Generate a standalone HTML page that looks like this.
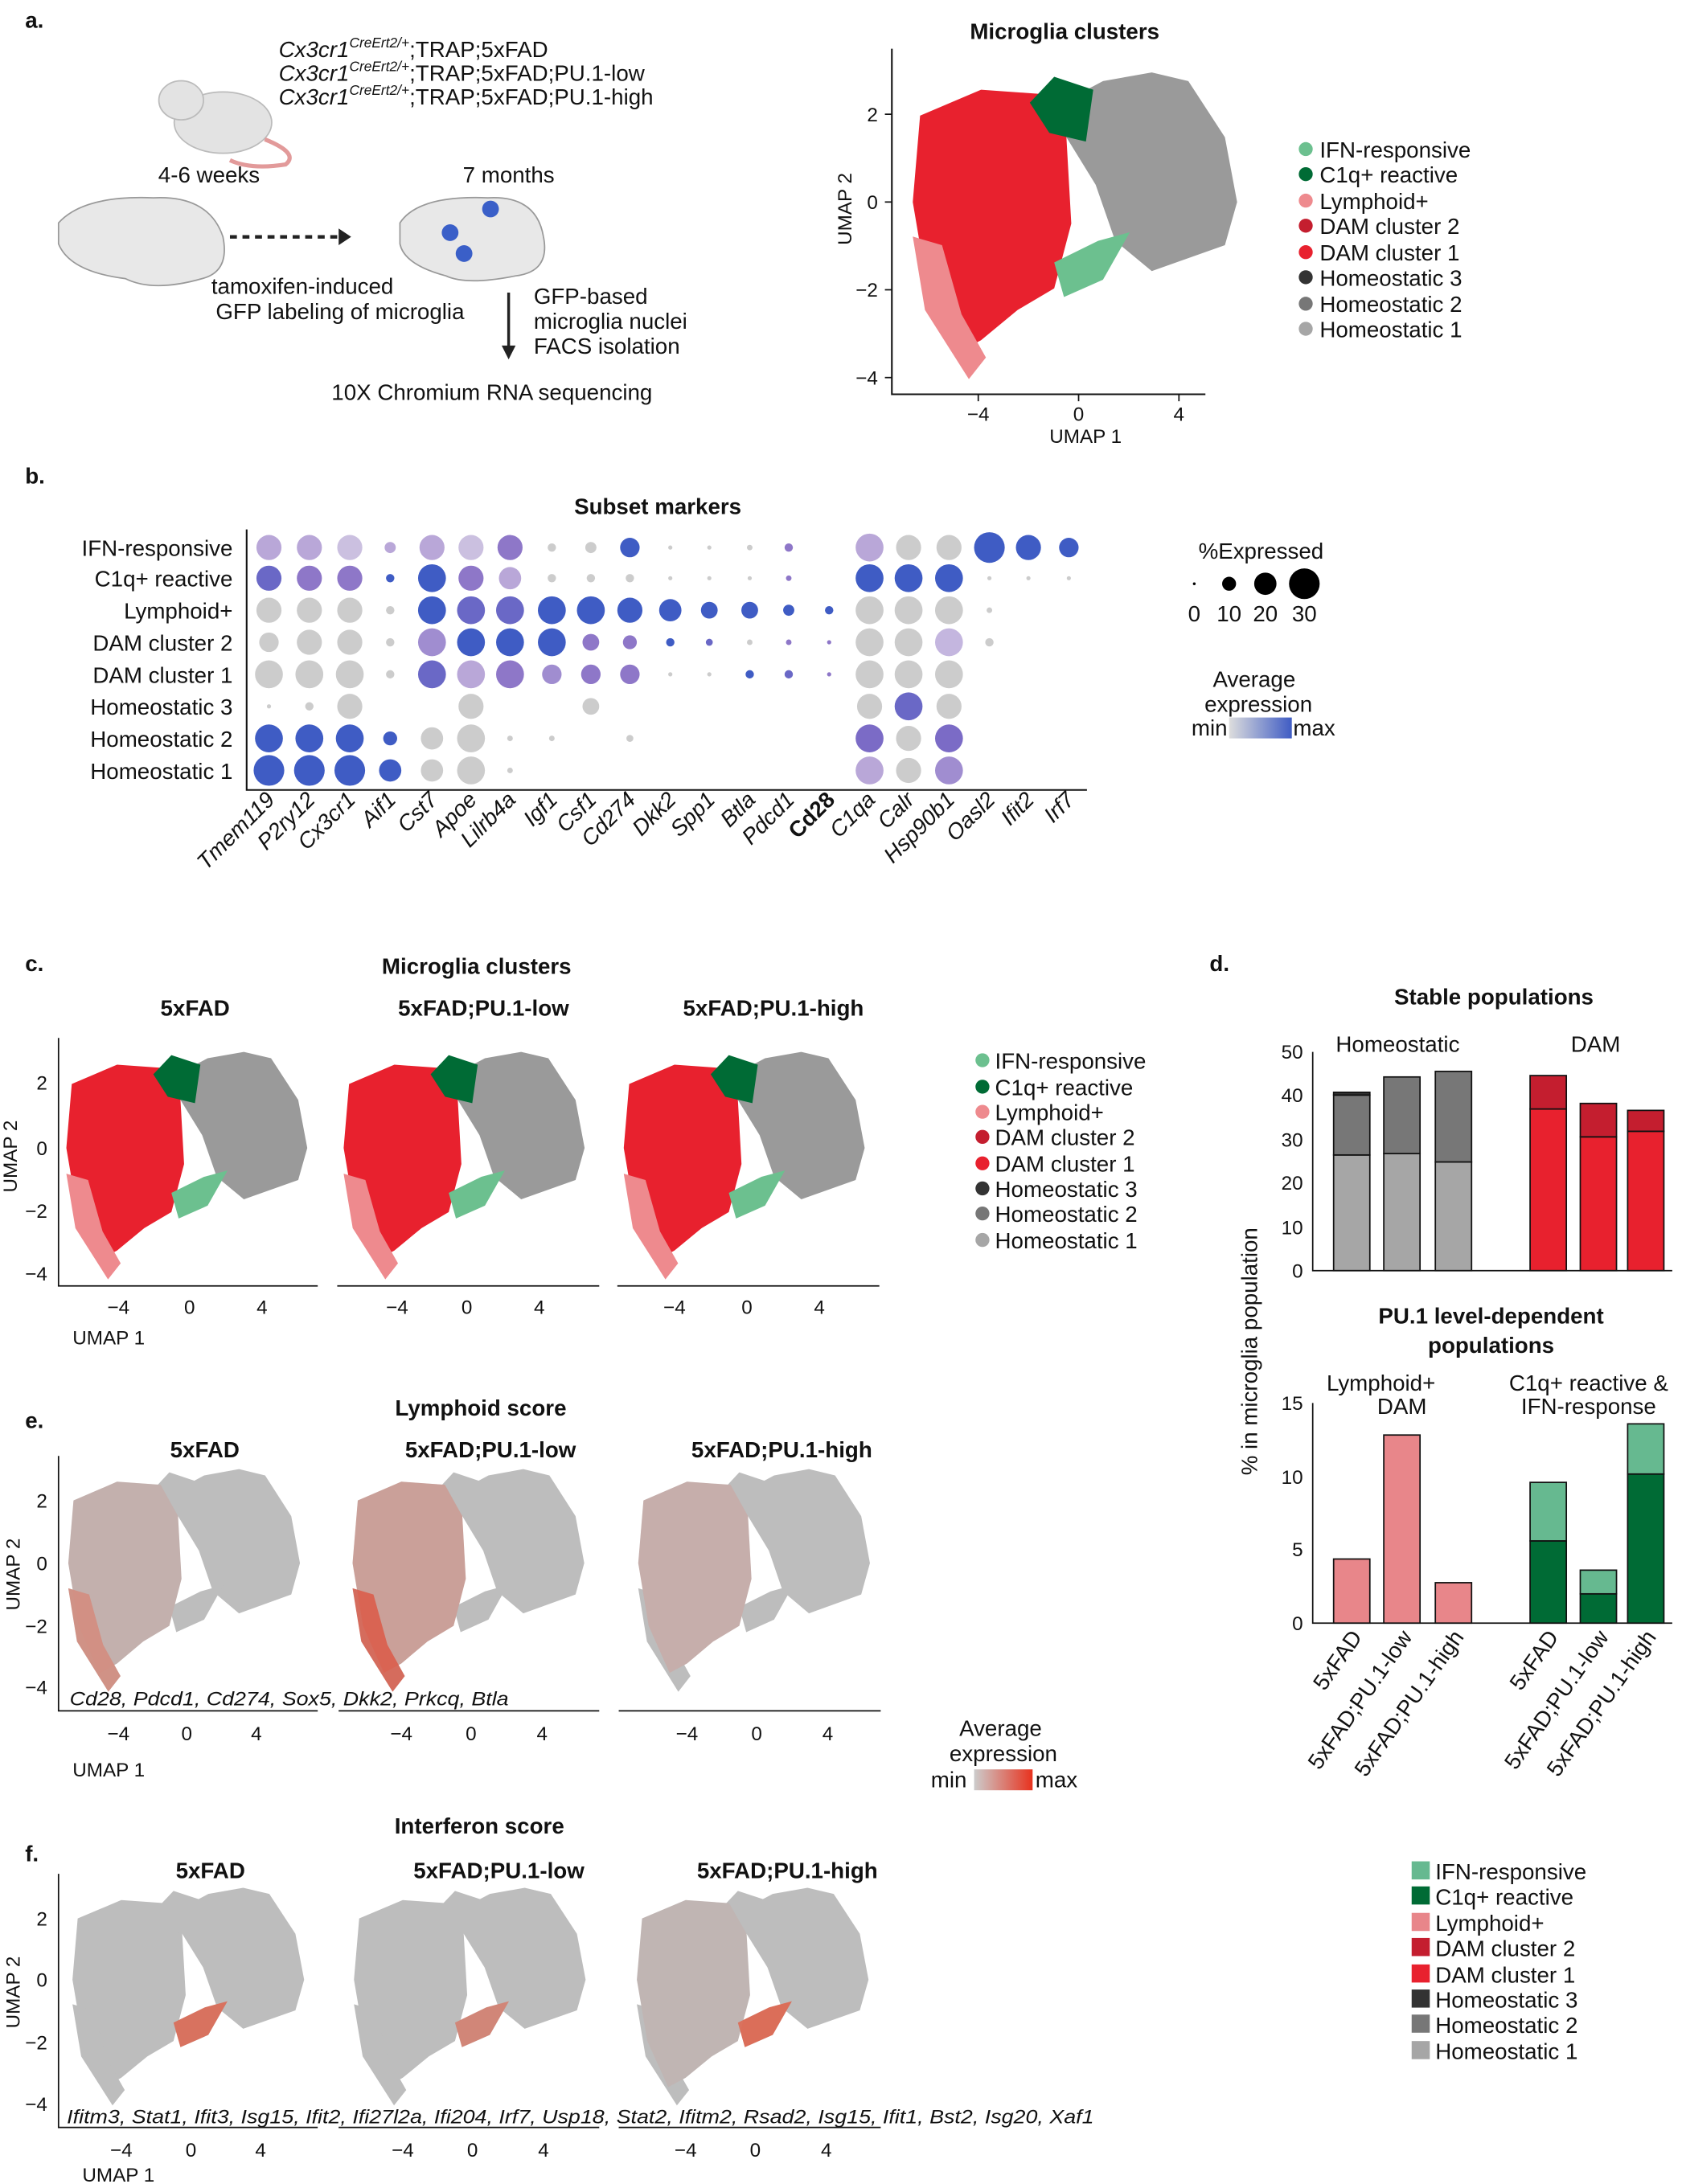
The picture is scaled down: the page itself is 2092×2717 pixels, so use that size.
<!DOCTYPE html>
<html><head><meta charset="utf-8"><style>
html,body{margin:0;padding:0;background:#fff}
svg{display:block;font-family:"Liberation Sans",Arial,sans-serif}
.t{font-size:16px;fill:#111}
.b{font-weight:bold}
.tk{font-size:14px;fill:#111}
.i{font-style:italic}
</style></head><body>
<svg width="2092" height="2717" viewBox="0 0 1207 1567.6" xmlns="http://www.w3.org/2000/svg">
<defs>
<g id="grey"><polygon points="-1,2.2 1,2.8 3,3 4.5,2.8 6,1.5 6.5,0 6,-1 3,-1.6 1.5,-0.9 0.7,0.4 -0.5,1.5"/></g>
<g id="red"><polygon points="-6.5,2 -4,2.6 -1.5,2.5 -0.5,1.5 -0.3,-0.5 -1,-2 -2.5,-2.5 -4,-3.2 -5,-3.5 -6.2,-2 -6.8,0"/></g>
<g id="pink"><polygon points="-6.8,-0.8 -6.3,-2.5 -4.5,-4.1 -3.8,-3.6 -4.8,-2.6 -5.6,-1"/></g>
<g id="dkg"><polygon points="-2,2.3 -1,2.9 0.6,2.6 0.3,1.4 -1.2,1.6"/></g>
<g id="ltg"><polygon points="-1,-1.4 0.8,-0.9 2.1,-0.7 1,-1.8 -0.6,-2.2"/></g>
<g id="umap">
<use href="#grey" fill="#9a9a9a"/><use href="#red" fill="#e8212e"/><use href="#pink" fill="#ee8a8e"/><use href="#dkg" fill="#006b35"/><use href="#ltg" fill="#6cc08f"/>
</g>
<g id="score">
<use href="#grey" fill="#bdbdbd"/><use href="#red" fill="#bdbdbd"/><use href="#pink" fill="#bdbdbd"/><use href="#dkg" fill="#bdbdbd"/><use href="#ltg" fill="#bdbdbd"/>
</g>
<linearGradient id="gp" x1="0" x2="1"><stop offset="0" stop-color="#ddd"/><stop offset="1" stop-color="#3f5cc4"/></linearGradient>
<linearGradient id="gr" x1="0" x2="1"><stop offset="0" stop-color="#ccc"/><stop offset="1" stop-color="#e8321e"/></linearGradient>
</defs>

<!-- Panel a -->
<text x="18" y="20" class="t b" font-size="18">a.</text>
<ellipse cx="160" cy="88" rx="35" ry="22" fill="#e3e3e3" stroke="#bbb"/>
<ellipse cx="130" cy="72" rx="16" ry="14" fill="#e3e3e3" stroke="#bbb"/>
<path d="M190 100 Q215 110 205 118 Q180 122 165 115" fill="none" stroke="#e29a9a" stroke-width="3"/>
<text x="200" y="41" class="t"><tspan class="i">Cx3cr1</tspan><tspan font-size="10" dy="-7" class="i">CreErt2/+</tspan><tspan dy="7">;TRAP;5xFAD</tspan></text>
<text x="200" y="58" class="t"><tspan class="i">Cx3cr1</tspan><tspan font-size="10" dy="-7" class="i">CreErt2/+</tspan><tspan dy="7">;TRAP;5xFAD;PU.1-low</tspan></text>
<text x="200" y="75" class="t"><tspan class="i">Cx3cr1</tspan><tspan font-size="10" dy="-7" class="i">CreErt2/+</tspan><tspan dy="7">;TRAP;5xFAD;PU.1-high</tspan></text>
<text x="150" y="131" class="t" text-anchor="middle">4-6 weeks</text>
<text x="365" y="131" class="t" text-anchor="middle">7 months</text>
<path d="M42 160 Q60 140 110 142 Q150 140 160 170 Q165 195 145 200 Q110 210 90 200 Q50 195 42 175Z" fill="#e8e8e8" stroke="#999"/>
<path d="M287 160 Q300 140 350 142 Q385 140 390 170 Q395 195 370 198 Q335 205 320 198 Q290 190 287 175Z" fill="#e8e8e8" stroke="#999"/>
<circle cx="323" cy="167" r="6" fill="#3a5fc8"/><circle cx="352" cy="150" r="6" fill="#3a5fc8"/><circle cx="333" cy="182" r="6" fill="#3a5fc8"/>
<line x1="165" y1="170" x2="243" y2="170" stroke="#222" stroke-width="2.5" stroke-dasharray="5,4"/>
<polygon points="243,164 252,170 243,176" fill="#222"/>
<text x="217" y="211" class="t" text-anchor="middle">tamoxifen-induced</text>
<text x="244" y="229" class="t" text-anchor="middle">GFP labeling of microglia</text>
<line x1="365" y1="210" x2="365" y2="250" stroke="#222" stroke-width="2"/>
<polygon points="360,248 370,248 365,258" fill="#222"/>
<text x="383" y="218" class="t">GFP-based</text>
<text x="383" y="236" class="t">microglia nuclei</text>
<text x="383" y="254" class="t">FACS isolation</text>
<text x="353" y="287" class="t" text-anchor="middle">10X Chromium RNA sequencing</text>

<!-- top UMAP -->
<text x="764" y="28" class="t b" font-size="18" text-anchor="middle">Microglia clusters</text>
<g transform="translate(774,145) scale(17.5,-31)"><use href="#umap"/></g>
<path d="M640 35 V283 H865" fill="none" stroke="#111" stroke-width="1.2"/>
<g class="tk" text-anchor="end"><text x="630" y="87">2</text><text x="630" y="150">0</text><text x="630" y="213">−2</text><text x="630" y="276">−4</text></g>
<g stroke="#111"><line x1="635" y1="82" x2="640" y2="82"/><line x1="635" y1="145" x2="640" y2="145"/><line x1="635" y1="208" x2="640" y2="208"/><line x1="635" y1="271" x2="640" y2="271"/>
<line x1="702" y1="283" x2="702" y2="288"/><line x1="774" y1="283" x2="774" y2="288"/><line x1="846" y1="283" x2="846" y2="288"/></g>
<g class="tk" text-anchor="middle"><text x="702" y="302">−4</text><text x="774" y="302">0</text><text x="846" y="302">4</text></g>
<text x="779" y="318" class="tk" text-anchor="middle">UMAP 1</text>
<text transform="translate(611,150) rotate(-90)" class="tk" text-anchor="middle">UMAP 2</text>
<g class="t">
<circle cx="937" cy="107" r="5" fill="#6cc08f"/><text x="947" y="113">IFN-responsive</text>
<circle cx="937" cy="125" r="5" fill="#006b35"/><text x="947" y="131">C1q+ reactive</text>
<circle cx="937" cy="144" r="5" fill="#ee8a8e"/><text x="947" y="150">Lymphoid+</text>
<circle cx="937" cy="162" r="5" fill="#c41e2f"/><text x="947" y="168">DAM cluster 2</text>
<circle cx="937" cy="181" r="5" fill="#e8212e"/><text x="947" y="187">DAM cluster 1</text>
<circle cx="937" cy="199" r="5" fill="#333"/><text x="947" y="205">Homeostatic 3</text>
<circle cx="937" cy="218" r="5" fill="#777"/><text x="947" y="224">Homeostatic 2</text>
<circle cx="937" cy="236" r="5" fill="#a6a6a6"/><text x="947" y="242">Homeostatic 1</text>
</g>

<!-- Panel b -->
<text x="18" y="347" class="t b" font-size="18">b.</text>
<text x="472" y="369" class="t b" font-size="18" text-anchor="middle">Subset markers</text>
<g class="t" text-anchor="end">
<text x="167" y="399">IFN-responsive</text><text x="167" y="421">C1q+ reactive</text><text x="167" y="444">Lymphoid+</text><text x="167" y="467">DAM cluster 2</text><text x="167" y="490">DAM cluster 1</text><text x="167" y="513">Homeostatic 3</text><text x="167" y="536">Homeostatic 2</text><text x="167" y="559">Homeostatic 1</text>
</g>
<path d="M177 380 V567 H780" fill="none" stroke="#111" stroke-width="1.2"/>
<g id="dots">
<g>
<circle cx="193" cy="393" r="9" fill="#b9a7d8"/><circle cx="222" cy="393" r="9" fill="#b9a7d8"/><circle cx="251" cy="393" r="9" fill="#cbc0e0"/><circle cx="280" cy="393" r="4" fill="#b9a7d8"/><circle cx="310" cy="393" r="9" fill="#b9a7d8"/><circle cx="338" cy="393" r="9" fill="#cbc0e0"/><circle cx="366" cy="393" r="9" fill="#8e77c8"/><circle cx="396" cy="393" r="3" fill="#ccc"/><circle cx="424" cy="393" r="4" fill="#ccc"/><circle cx="452" cy="393" r="7" fill="#3f5cc4"/><circle cx="481" cy="393" r="1.5" fill="#ccc"/><circle cx="509" cy="393" r="1.5" fill="#ccc"/><circle cx="538" cy="393" r="2" fill="#ccc"/><circle cx="566" cy="393" r="3" fill="#8e77c8"/><circle cx="624" cy="393" r="10" fill="#b9a7d8"/><circle cx="652" cy="393" r="9" fill="#ccc"/><circle cx="681" cy="393" r="9" fill="#ccc"/><circle cx="710" cy="393" r="11" fill="#3f5cc4"/><circle cx="738" cy="393" r="9" fill="#3f5cc4"/><circle cx="767" cy="393" r="7" fill="#3f5cc4"/>
</g>
<g>
<circle cx="193" cy="415" r="9" fill="#6a68c6"/><circle cx="222" cy="415" r="9" fill="#8e77c8"/><circle cx="251" cy="415" r="9" fill="#8e77c8"/><circle cx="280" cy="415" r="3" fill="#3f5cc4"/><circle cx="310" cy="415" r="10" fill="#3f5cc4"/><circle cx="338" cy="415" r="9" fill="#8e77c8"/><circle cx="366" cy="415" r="8" fill="#b9a7d8"/><circle cx="396" cy="415" r="3" fill="#ccc"/><circle cx="424" cy="415" r="3" fill="#ccc"/><circle cx="452" cy="415" r="3" fill="#ccc"/><circle cx="481" cy="415" r="1.5" fill="#ccc"/><circle cx="509" cy="415" r="1.5" fill="#ccc"/><circle cx="538" cy="415" r="1.5" fill="#ccc"/><circle cx="566" cy="415" r="2" fill="#8e77c8"/><circle cx="624" cy="415" r="10" fill="#3f5cc4"/><circle cx="652" cy="415" r="10" fill="#3f5cc4"/><circle cx="681" cy="415" r="10" fill="#3f5cc4"/><circle cx="710" cy="415" r="1.5" fill="#ccc"/><circle cx="738" cy="415" r="1.5" fill="#ccc"/><circle cx="767" cy="415" r="1.5" fill="#ccc"/>
</g>
<g>
<circle cx="193" cy="438" r="9" fill="#ccc"/><circle cx="222" cy="438" r="9" fill="#ccc"/><circle cx="251" cy="438" r="9" fill="#ccc"/><circle cx="280" cy="438" r="3" fill="#ccc"/><circle cx="310" cy="438" r="10" fill="#3f5cc4"/><circle cx="338" cy="438" r="10" fill="#6a68c6"/><circle cx="366" cy="438" r="10" fill="#6a68c6"/><circle cx="396" cy="438" r="10" fill="#3f5cc4"/><circle cx="424" cy="438" r="10" fill="#3f5cc4"/><circle cx="452" cy="438" r="9" fill="#3f5cc4"/><circle cx="481" cy="438" r="8" fill="#3f5cc4"/><circle cx="509" cy="438" r="6" fill="#3f5cc4"/><circle cx="538" cy="438" r="6" fill="#3f5cc4"/><circle cx="566" cy="438" r="4" fill="#3f5cc4"/><circle cx="595" cy="438" r="3" fill="#3f5cc4"/><circle cx="624" cy="438" r="10" fill="#ccc"/><circle cx="652" cy="438" r="10" fill="#ccc"/><circle cx="681" cy="438" r="10" fill="#ccc"/><circle cx="710" cy="438" r="2" fill="#ccc"/>
</g>
<g>
<circle cx="193" cy="461" r="7" fill="#ccc"/><circle cx="222" cy="461" r="9" fill="#ccc"/><circle cx="251" cy="461" r="9" fill="#ccc"/><circle cx="280" cy="461" r="3" fill="#ccc"/><circle cx="310" cy="461" r="10" fill="#a08dd0"/><circle cx="338" cy="461" r="10" fill="#3f5cc4"/><circle cx="366" cy="461" r="10" fill="#3f5cc4"/><circle cx="396" cy="461" r="10" fill="#3f5cc4"/><circle cx="424" cy="461" r="6" fill="#8e77c8"/><circle cx="452" cy="461" r="5" fill="#8e77c8"/><circle cx="481" cy="461" r="3" fill="#3f5cc4"/><circle cx="509" cy="461" r="2.5" fill="#6a68c6"/><circle cx="538" cy="461" r="2" fill="#ccc"/><circle cx="566" cy="461" r="2" fill="#8e77c8"/><circle cx="595" cy="461" r="1.5" fill="#8e77c8"/><circle cx="624" cy="461" r="10" fill="#ccc"/><circle cx="652" cy="461" r="10" fill="#ccc"/><circle cx="681" cy="461" r="10" fill="#c4b6df"/><circle cx="710" cy="461" r="3" fill="#ccc"/>
</g>
<g>
<circle cx="193" cy="484" r="10" fill="#ccc"/><circle cx="222" cy="484" r="10" fill="#ccc"/><circle cx="251" cy="484" r="10" fill="#ccc"/><circle cx="280" cy="484" r="3" fill="#ccc"/><circle cx="310" cy="484" r="10" fill="#6a68c6"/><circle cx="338" cy="484" r="10" fill="#b9a7d8"/><circle cx="366" cy="484" r="10" fill="#8e77c8"/><circle cx="396" cy="484" r="7" fill="#a08dd0"/><circle cx="424" cy="484" r="7" fill="#8e77c8"/><circle cx="452" cy="484" r="7" fill="#8e77c8"/><circle cx="481" cy="484" r="1.5" fill="#ccc"/><circle cx="509" cy="484" r="1.5" fill="#ccc"/><circle cx="538" cy="484" r="3" fill="#3f5cc4"/><circle cx="566" cy="484" r="3" fill="#6a68c6"/><circle cx="595" cy="484" r="1.5" fill="#8e77c8"/><circle cx="624" cy="484" r="10" fill="#ccc"/><circle cx="652" cy="484" r="10" fill="#ccc"/><circle cx="681" cy="484" r="10" fill="#ccc"/>
</g>
<g>
<circle cx="193" cy="507" r="1.5" fill="#ccc"/><circle cx="222" cy="507" r="3" fill="#ccc"/><circle cx="251" cy="507" r="9" fill="#ccc"/><circle cx="338" cy="507" r="9" fill="#ccc"/><circle cx="424" cy="507" r="6" fill="#ccc"/><circle cx="624" cy="507" r="9" fill="#ccc"/><circle cx="652" cy="507" r="10" fill="#6a68c6"/><circle cx="681" cy="507" r="9" fill="#ccc"/>
</g>
<g>
<circle cx="193" cy="530" r="10" fill="#3f5cc4"/><circle cx="222" cy="530" r="10" fill="#3f5cc4"/><circle cx="251" cy="530" r="10" fill="#3f5cc4"/><circle cx="280" cy="530" r="5" fill="#3f5cc4"/><circle cx="310" cy="530" r="8" fill="#ccc"/><circle cx="338" cy="530" r="10" fill="#ccc"/><circle cx="366" cy="530" r="2" fill="#ccc"/><circle cx="396" cy="530" r="2" fill="#ccc"/><circle cx="452" cy="530" r="2.5" fill="#ccc"/><circle cx="624" cy="530" r="10" fill="#7b6bc6"/><circle cx="652" cy="530" r="9" fill="#ccc"/><circle cx="681" cy="530" r="10" fill="#7b6bc6"/>
</g>
<g>
<circle cx="193" cy="553" r="11" fill="#3f5cc4"/><circle cx="222" cy="553" r="11" fill="#3f5cc4"/><circle cx="251" cy="553" r="11" fill="#3f5cc4"/><circle cx="280" cy="553" r="8" fill="#3f5cc4"/><circle cx="310" cy="553" r="8" fill="#ccc"/><circle cx="338" cy="553" r="10" fill="#ccc"/><circle cx="366" cy="553" r="2" fill="#ccc"/><circle cx="624" cy="553" r="10" fill="#b9a7d8"/><circle cx="652" cy="553" r="9" fill="#ccc"/><circle cx="681" cy="553" r="10" fill="#a08dd0"/>
</g>
</g>
<g class="t i" text-anchor="end">
<text transform="translate(198,575) rotate(-45)">Tmem119</text><text transform="translate(227,575) rotate(-45)">P2ry12</text><text transform="translate(256,575) rotate(-45)">Cx3cr1</text><text transform="translate(285,575) rotate(-45)">Aif1</text><text transform="translate(315,575) rotate(-45)">Cst7</text><text transform="translate(343,575) rotate(-45)">Apoe</text><text transform="translate(371,575) rotate(-45)">Lilrb4a</text><text transform="translate(401,575) rotate(-45)">Igf1</text><text transform="translate(429,575) rotate(-45)">Csf1</text><text transform="translate(457,575) rotate(-45)">Cd274</text><text transform="translate(486,575) rotate(-45)">Dkk2</text><text transform="translate(514,575) rotate(-45)">Spp1</text><text transform="translate(543,575) rotate(-45)">Btla</text><text transform="translate(571,575) rotate(-45)">Pdcd1</text><text transform="translate(600,575) rotate(-45)" font-style="normal" font-weight="bold">Cd28</text><text transform="translate(629,575) rotate(-45)">C1qa</text><text transform="translate(657,575) rotate(-45)">Calr</text><text transform="translate(686,575) rotate(-45)">Hsp90b1</text><text transform="translate(715,575) rotate(-45)">Oasl2</text><text transform="translate(743,575) rotate(-45)">Ifit2</text><text transform="translate(772,575) rotate(-45)">Irf7</text>
</g>
<text x="860" y="401" class="t">%Expressed</text>
<circle cx="857" cy="419" r="1" fill="#000"/><circle cx="882" cy="419" r="5" fill="#000"/><circle cx="908" cy="419" r="8" fill="#000"/><circle cx="936" cy="419" r="11" fill="#000"/>
<g class="t" text-anchor="middle"><text x="857" y="446">0</text><text x="882" y="446">10</text><text x="908" y="446">20</text><text x="936" y="446">30</text></g>
<text x="900" y="493" class="t" text-anchor="middle">Average</text>
<text x="903" y="511" class="t" text-anchor="middle">expression</text>
<text x="855" y="528" class="t">min</text><rect x="882" y="515" width="45" height="15" fill="url(#gp)"/><text x="928" y="528" class="t">max</text>

<!-- Panel c -->
<text x="18" y="697" class="t b" font-size="18">c.</text>
<text x="342" y="699" class="t b" font-size="18" text-anchor="middle">Microglia clusters</text>
<g class="t b" text-anchor="middle"><text x="140" y="729">5xFAD</text><text x="347" y="729">5xFAD;PU.1-low</text><text x="555" y="729">5xFAD;PU.1-high</text></g>
<g transform="translate(136,824) scale(13,-23)"><use href="#umap"/></g>
<g transform="translate(335,824) scale(13,-23)"><use href="#umap"/></g>
<g transform="translate(536,824) scale(13,-23)"><use href="#umap"/></g>
<path d="M42 745 V923 H228" fill="none" stroke="#111"/>
<path d="M242 923 H430" fill="none" stroke="#111"/>
<path d="M443 923 H631" fill="none" stroke="#111"/>
<g class="tk" text-anchor="end"><text x="34" y="782">2</text><text x="34" y="829">0</text><text x="34" y="874">−2</text><text x="34" y="919">−4</text></g>
<g class="tk" text-anchor="middle"><text x="85" y="943">−4</text><text x="136" y="943">0</text><text x="188" y="943">4</text><text x="285" y="943">−4</text><text x="335" y="943">0</text><text x="387" y="943">4</text><text x="484" y="943">−4</text><text x="536" y="943">0</text><text x="588" y="943">4</text></g>
<text x="78" y="965" class="tk" text-anchor="middle">UMAP 1</text>
<text transform="translate(12,830) rotate(-90)" class="tk" text-anchor="middle">UMAP 2</text>
<g class="t">
<circle cx="705" cy="761" r="5" fill="#6cc08f"/><text x="714" y="767">IFN-responsive</text>
<circle cx="705" cy="780" r="5" fill="#006b35"/><text x="714" y="786">C1q+ reactive</text>
<circle cx="705" cy="798" r="5" fill="#ee8a8e"/><text x="714" y="804">Lymphoid+</text>
<circle cx="705" cy="816" r="5" fill="#c41e2f"/><text x="714" y="822">DAM cluster 2</text>
<circle cx="705" cy="835" r="5" fill="#e8212e"/><text x="714" y="841">DAM cluster 1</text>
<circle cx="705" cy="853" r="5" fill="#333"/><text x="714" y="859">Homeostatic 3</text>
<circle cx="705" cy="871" r="5" fill="#777"/><text x="714" y="877">Homeostatic 2</text>
<circle cx="705" cy="890" r="5" fill="#a6a6a6"/><text x="714" y="896">Homeostatic 1</text>
</g>

<!-- Panel d -->
<text x="868" y="697" class="t b" font-size="18">d.</text>
<text x="1072" y="721" class="t b" font-size="18" text-anchor="middle">Stable populations</text>
<text x="1003" y="755" class="t" text-anchor="middle">Homeostatic</text>
<text x="1145" y="755" class="t" text-anchor="middle">DAM</text>
<path d="M942 755 V912 H1200" fill="none" stroke="#111"/>
<g class="tk" text-anchor="end"><text x="935" y="760">50</text><text x="935" y="791">40</text><text x="935" y="823">30</text><text x="935" y="854">20</text><text x="935" y="886">10</text><text x="935" y="917">0</text></g>
<g stroke="#111" stroke-width="1">
<rect x="957" y="829" width="26" height="83" fill="#a6a6a6"/><rect x="957" y="786" width="26" height="43" fill="#777"/><rect x="957" y="784" width="26" height="2" fill="#333"/>
<rect x="993" y="828" width="26" height="84" fill="#a6a6a6"/><rect x="993" y="773" width="26" height="55" fill="#777"/>
<rect x="1030" y="834" width="26" height="78" fill="#a6a6a6"/><rect x="1030" y="769" width="26" height="65" fill="#777"/>
<rect x="1098" y="796" width="26" height="116" fill="#e8212e"/><rect x="1098" y="772" width="26" height="24" fill="#c41e2f"/>
<rect x="1134" y="816" width="26" height="96" fill="#e8212e"/><rect x="1134" y="792" width="26" height="24" fill="#c41e2f"/>
<rect x="1168" y="812" width="26" height="100" fill="#e8212e"/><rect x="1168" y="797" width="26" height="15" fill="#c41e2f"/>
</g>
<text transform="translate(902,970) rotate(-90)" class="t" text-anchor="middle">% in microglia population</text>
<text x="1070" y="950" class="t b" font-size="18" text-anchor="middle">PU.1 level-dependent</text>
<text x="1070" y="971" class="t b" font-size="18" text-anchor="middle">populations</text>
<text x="991" y="998" class="t" text-anchor="middle">Lymphoid+</text>
<text x="1006" y="1015" class="t" text-anchor="middle">DAM</text>
<text x="1140" y="998" class="t" text-anchor="middle">C1q+ reactive &amp;</text>
<text x="1140" y="1015" class="t" text-anchor="middle">IFN-response</text>
<path d="M942 1007 V1165 H1200" fill="none" stroke="#111"/>
<g class="tk" text-anchor="end"><text x="935" y="1012">15</text><text x="935" y="1065">10</text><text x="935" y="1117">5</text><text x="935" y="1170">0</text></g>
<g stroke="#111">
<rect x="957" y="1119" width="26" height="46" fill="#e8868a"/>
<rect x="993" y="1030" width="26" height="135" fill="#e8868a"/>
<rect x="1030" y="1136" width="26" height="29" fill="#e8868a"/>
<rect x="1098" y="1106" width="26" height="59" fill="#006b35"/><rect x="1098" y="1064" width="26" height="42" fill="#66b990"/>
<rect x="1134" y="1144" width="26" height="21" fill="#006b35"/><rect x="1134" y="1127" width="26" height="17" fill="#66b990"/>
<rect x="1168" y="1058" width="26" height="107" fill="#006b35"/><rect x="1168" y="1022" width="26" height="36" fill="#66b990"/>
</g>
<g class="t" text-anchor="end">
<text transform="translate(978,1175) rotate(-55)">5xFAD</text><text transform="translate(1014,1175) rotate(-55)">5xFAD;PU.1-low</text><text transform="translate(1051,1175) rotate(-55)">5xFAD;PU.1-high</text>
<text transform="translate(1119,1175) rotate(-55)">5xFAD</text><text transform="translate(1155,1175) rotate(-55)">5xFAD;PU.1-low</text><text transform="translate(1189,1175) rotate(-55)">5xFAD;PU.1-high</text>
</g>

<!-- Panel e -->
<text x="18" y="1025" class="t b" font-size="18">e.</text>
<text x="345" y="1016" class="t b" font-size="18" text-anchor="middle">Lymphoid score</text>
<g class="t b" text-anchor="middle"><text x="147" y="1046">5xFAD</text><text x="352" y="1046">5xFAD;PU.1-low</text><text x="561" y="1046">5xFAD;PU.1-high</text></g>
<g transform="translate(134,1122) scale(12.5,-22.5)"><use href="#score"/><use href="#pink" fill="#e0705a" opacity="0.55"/><use href="#red" fill="#d98a80" opacity="0.25"/></g>
<g transform="translate(338,1122) scale(12.5,-22.5)"><use href="#score"/><use href="#red" fill="#e26a55" opacity="0.35"/><use href="#pink" fill="#e04a35" opacity="0.7"/></g>
<g transform="translate(543,1122) scale(12.5,-22.5)"><use href="#score"/><use href="#red" fill="#d98a80" opacity="0.3"/></g>
<path d="M42 1045 V1228 H228" fill="none" stroke="#111"/>
<path d="M243 1228 H430" fill="none" stroke="#111"/>
<path d="M444 1228 H632" fill="none" stroke="#111"/>
<g class="tk" text-anchor="end"><text x="34" y="1082">2</text><text x="34" y="1127">0</text><text x="34" y="1172">−2</text><text x="34" y="1216">−4</text></g>
<g class="tk" text-anchor="middle"><text x="85" y="1249">−4</text><text x="134" y="1249">0</text><text x="184" y="1249">4</text><text x="288" y="1249">−4</text><text x="338" y="1249">0</text><text x="389" y="1249">4</text><text x="493" y="1249">−4</text><text x="543" y="1249">0</text><text x="594" y="1249">4</text></g>
<text x="50" y="1224" class="tk i" textLength="315" lengthAdjust="spacingAndGlyphs">Cd28, Pdcd1, Cd274, Sox5, Dkk2, Prkcq, Btla</text>
<text x="78" y="1275" class="tk" text-anchor="middle">UMAP 1</text>
<text transform="translate(14,1130) rotate(-90)" class="tk" text-anchor="middle">UMAP 2</text>
<text x="718" y="1246" class="t" text-anchor="middle">Average</text>
<text x="720" y="1264" class="t" text-anchor="middle">expression</text>
<text x="668" y="1283" class="t">min</text><rect x="699" y="1270" width="42" height="15" fill="url(#gr)"/><text x="743" y="1283" class="t">max</text>

<!-- Panel f -->
<text x="18" y="1336" class="t b" font-size="18">f.</text>
<text x="344" y="1316" class="t b" font-size="18" text-anchor="middle">Interferon score</text>
<g class="t b" text-anchor="middle"><text x="151" y="1348">5xFAD</text><text x="358" y="1348">5xFAD;PU.1-low</text><text x="565" y="1348">5xFAD;PU.1-high</text></g>
<g transform="translate(137,1421) scale(12.5,-22)"><use href="#score"/><use href="#ltg" fill="#e25a40" opacity="0.75"/></g>
<g transform="translate(339,1421) scale(12.5,-22)"><use href="#score"/><use href="#ltg" fill="#e25a40" opacity="0.55"/></g>
<g transform="translate(542,1421) scale(12.5,-22)"><use href="#score"/><use href="#ltg" fill="#e25a40" opacity="0.8"/><use href="#red" fill="#d98a80" opacity="0.15"/></g>
<path d="M42 1345 V1527 H228" fill="none" stroke="#111"/>
<path d="M243 1527 H430" fill="none" stroke="#111"/>
<path d="M444 1527 H632" fill="none" stroke="#111"/>
<g class="tk" text-anchor="end"><text x="34" y="1382">2</text><text x="34" y="1426">0</text><text x="34" y="1471">−2</text><text x="34" y="1515">−4</text></g>
<g class="tk" text-anchor="middle"><text x="87" y="1548">−4</text><text x="137" y="1548">0</text><text x="187" y="1548">4</text><text x="289" y="1548">−4</text><text x="339" y="1548">0</text><text x="390" y="1548">4</text><text x="492" y="1548">−4</text><text x="542" y="1548">0</text><text x="593" y="1548">4</text></g>
<text x="48" y="1524" class="tk i" textLength="737" lengthAdjust="spacingAndGlyphs">Ifitm3, Stat1, Ifit3, Isg15, Ifit2, Ifi27l2a, Ifi204, Irf7, Usp18, Stat2, Ifitm2, Rsad2, Isg15, Ifit1, Bst2, Isg20, Xaf1</text>
<text x="85" y="1566" class="tk" text-anchor="middle">UMAP 1</text>
<text transform="translate(14,1430) rotate(-90)" class="tk" text-anchor="middle">UMAP 2</text>
<g class="t">
<rect x="1013" y="1336" width="13" height="13" fill="#66b990"/><text x="1030" y="1349">IFN-responsive</text>
<rect x="1013" y="1354" width="13" height="13" fill="#006b35"/><text x="1030" y="1367">C1q+ reactive</text>
<rect x="1013" y="1373" width="13" height="13" fill="#e8868a"/><text x="1030" y="1386">Lymphoid+</text>
<rect x="1013" y="1391" width="13" height="13" fill="#c41e2f"/><text x="1030" y="1404">DAM cluster 2</text>
<rect x="1013" y="1410" width="13" height="13" fill="#e8212e"/><text x="1030" y="1423">DAM cluster 1</text>
<rect x="1013" y="1428" width="13" height="13" fill="#333"/><text x="1030" y="1441">Homeostatic 3</text>
<rect x="1013" y="1446" width="13" height="13" fill="#777"/><text x="1030" y="1459">Homeostatic 2</text>
<rect x="1013" y="1465" width="13" height="13" fill="#a6a6a6"/><text x="1030" y="1478">Homeostatic 1</text>
</g>
</svg>
</body></html>
